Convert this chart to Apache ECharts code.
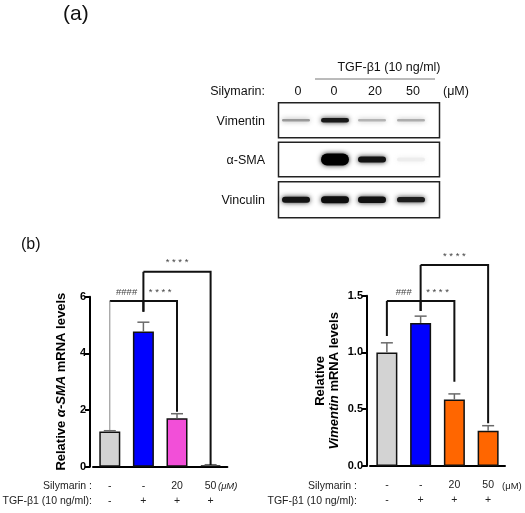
<!DOCTYPE html>
<html><head><meta charset="utf-8">
<script src="https://cdn.jsdelivr.net/npm/echarts@6/dist/echarts.min.js"></script>
<style>html,body{margin:0;padding:0;background:#fff}#c{width:525px;height:513px}</style>
</head><body><div id="c"></div><script>
// ---------- data ----------
const categories = ['Control', 'TGF-β1', 'TGF-β1 + Sil 20', 'TGF-β1 + Sil 50'];
const silymarinLabels = ['-', '-', '20', '50'];
const tgfLabels = ['-', '+', '+', '+'];

const smaValues = [1.24, 4.77, 1.71, 0.05];
const smaErrTop = [1.27, 5.10, 1.87, 0.07];
const smaColors = ['#d3d3d3', '#0000ff', '#f24fd8', '#f24fd8'];
const smaTicks = [0, 2, 4, 6];

const vimValues = [1.00, 1.26, 0.585, 0.31];
const vimErrTop = [1.085, 1.32, 0.635, 0.355];
const vimColors = ['#d3d3d3', '#0000ff', '#ff6600', '#ff6600'];
const vimTicks = [0, 0.5, 1.0, 1.5];

// brackets: from index, to index, bar height, left-leg end, right-leg end
const smaBrackets = [[0, 1, 5.85, 1.29, 5.47], [1, 2, 5.85, 5.47, 1.94], [1, 3, 6.88, 5.85, 0.06]];
const smaBracketLabels = ['####', '* * * *', '* * * *'];
const smaThinLeftLeg = [1, 0, 0];
const vimBrackets = [[0, 1, 1.454, 1.145, 1.366], [1, 2, 1.454, 1.366, 0.743], [1, 3, 1.771, 1.454, 0.376]];
const vimBracketLabels = ['###', '* * * *', '* * * *'];
const vimThinLeftLeg = [0, 0, 0];

// western blot (a)
const blotLanes = ['0', '0', '20', '50'];
const blotRows = ['Vimentin', 'α-SMA', 'Vinculin'];
const vimentinBand = [0.4, 0.9, 0.3, 0.32];
const smaBand = [0.0, 1.0, 0.92, 0.07];
const vinculinBand = [0.92, 0.95, 0.93, 0.88];

// ---------- chart ----------
const FONT = 'Liberation Sans, Arial, sans-serif';
const chart = echarts.init(document.getElementById('c'), null, {renderer: 'canvas'});

function xAxisCfg(gridIndex) {
  return {
    type: 'category', gridIndex, data: categories,
    axisLine: {lineStyle: {color: '#000', width: 2}},
    axisTick: {alignWithLabel: true, length: 6, lineStyle: {color: '#222', width: 1}},
    axisLabel: {
      margin: 12, fontSize: 10.5, lineHeight: 15, color: '#222', fontFamily: FONT,
      formatter: (v, i) => silymarinLabels[i] + '\n' + tgfLabels[i]
    }
  };
}
function yAxisCfg(gridIndex, max, interval, name, gap) {
  return {
    type: 'value', gridIndex, min: 0, max, interval, offset: 3,
    axisLine: {show: true, lineStyle: {color: '#000', width: 2}},
    axisTick: {show: true, length: 5, lineStyle: {color: '#000', width: 2}},
    splitLine: {show: false},
    axisLabel: {fontSize: 11, fontWeight: 'bold', color: '#000', fontFamily: FONT, margin: 4,
      formatter: v => max < 5 ? v.toFixed(1) : String(v)},
    name, nameLocation: 'middle', nameRotate: 90, nameGap: gap,
    nameTextStyle: {
      fontFamily: FONT, color: '#000', lineHeight: 14, align: 'center',
      rich: {
        b: {fontSize: 13, fontWeight: 'bold', fontFamily: FONT, color: '#000'},
        i: {fontSize: 13, fontWeight: 'bold', fontStyle: 'italic', fontFamily: FONT, color: '#000'}
      }
    }
  };
}
function barSeries(idx, values, colors) {
  return {
    type: 'bar', xAxisIndex: idx, yAxisIndex: idx, barWidth: 21,
    data: values.map((v, i) => ({value: v, itemStyle: {color: colors[i]}})),
    itemStyle: {borderColor: '#111', borderWidth: 1.5}, z: 2
  };
}
function errSeries(idx, values, tops) {
  return {
    type: 'custom', xAxisIndex: idx, yAxisIndex: idx, z: 3, clip: false,
    data: values.map((v, i) => [i, v, tops[i]]),
    renderItem: (p, api) => {
      const a = api.coord([api.value(0), api.value(1)]);
      const b = api.coord([api.value(0), api.value(2)]);
      const st = {stroke: '#6a6a6a', lineWidth: 1.5};
      return {type: 'group', children: [
        {type: 'line', shape: {x1: a[0], y1: a[1], x2: b[0], y2: b[1]}, style: st},
        {type: 'line', shape: {x1: b[0] - 6, y1: b[1], x2: b[0] + 6, y2: b[1]}, style: st}
      ]};
    }
  };
}
function bracketSeries(idx, brackets, labels, thin) {
  return {
    type: 'custom', xAxisIndex: idx, yAxisIndex: idx, z: 4, clip: false,
    data: brackets,
    renderItem: (p, api) => {
      const i = p.dataIndex;
      const L = api.coord([api.value(0), api.value(3)]);
      const LT = api.coord([api.value(0), api.value(2)]);
      const RT = api.coord([api.value(1), api.value(2)]);
      const R = api.coord([api.value(1), api.value(4)]);
      const thick = {stroke: '#111', lineWidth: 2, fill: null};
      const children = [
        {type: 'polyline', shape: {points: [LT, RT, R]}, style: thick},
        {type: 'line', shape: {x1: L[0], y1: L[1], x2: LT[0], y2: LT[1]},
          style: thin[i] ? {stroke: '#888', lineWidth: 1} : {stroke: '#111', lineWidth: 2}},
        {type: 'text', x: (LT[0] + RT[0]) / 2, y: LT[1] - 9,
          style: {text: labels[i], fill: '#444', fontSize: 9.5, fontFamily: FONT,
            align: 'center', verticalAlign: 'middle'}}
      ];
      return {type: 'group', children};
    }
  };
}

// blot graphics
const laneX = [296, 335, 372, 411];
const boxes = [[102.7, 137.7], [142.3, 176.7], [181.7, 217.7]];
const bandData = [vimentinBand, smaBand, vinculinBand];
const bandHalfH = [[1.3, 2.3, 1.2, 1.3], [2.5, 6, 3, 2], [3, 3.5, 3.2, 2.6]];
const graphics = [];
graphics.push({type: 'text', left: 63, top: 4, style: {text: '(a)', fontSize: 21, fontFamily: FONT, fill: '#111'}});
graphics.push({type: 'text', left: 21, top: 237, style: {text: '(b)', fontSize: 16, fontFamily: FONT, fill: '#111'}});
graphics.push({type: 'text', x: 389, y: 68, style: {text: 'TGF-β1 (10 ng/ml)', fontSize: 12.5, fontFamily: FONT, fill: '#111', align: 'center', verticalAlign: 'middle'}});
graphics.push({type: 'line', shape: {x1: 315, y1: 79, x2: 435, y2: 79}, style: {stroke: '#777', lineWidth: 1}});
graphics.push({type: 'text', x: 265, y: 92, style: {text: 'Silymarin:', fontSize: 12.5, fontFamily: FONT, fill: '#111', align: 'right', verticalAlign: 'middle'}});
blotLanes.forEach((t, i) => graphics.push({type: 'text', x: [298, 334, 375, 413][i], y: 92,
  style: {text: t, fontSize: 12.5, fontFamily: FONT, fill: '#111', align: 'center', verticalAlign: 'middle'}}));
graphics.push({type: 'text', x: 443, y: 92, style: {text: '(μM)', fontSize: 12.5, fontFamily: FONT, fill: '#111', align: 'left', verticalAlign: 'middle'}});
blotRows.forEach((name, r) => {
  const [y0, y1] = boxes[r];
  graphics.push({type: 'text', x: 265, y: (y0 + y1) / 2 + 1, style: {text: name, fontSize: 12.5, fontFamily: FONT, fill: '#111', align: 'right', verticalAlign: 'middle'}});
  graphics.push({type: 'rect', shape: {x: 278.5, y: y0, width: 161, height: y1 - y0}, style: {fill: '#fff', stroke: '#222', lineWidth: 1.5}});
  bandData[r].forEach((v, i) => {
    if (v <= 0) return;
    const h = bandHalfH[r][i];
    const g = Math.round(255 * (1 - v));
    graphics.push({type: 'rect', shape: {x: laneX[i] - 14, y: (y0 + y1) / 2 - h, width: 28, height: 2 * h, r: h},
      style: {fill: `rgb(${g},${g},${g})`, shadowBlur: 5, shadowColor: `rgba(${g},${g},${g},0.9)`}});
  });
});
// chart (b) row labels
[[92, 'Silymarin :'], [92, 'TGF-β1 (10 ng/ml):']].forEach(([x, t], k) =>
  graphics.push({type: 'text', x, y: 486.5 + 15 * k, style: {text: t, fontSize: 10.5, fontFamily: FONT, fill: '#222', align: 'right', verticalAlign: 'middle'}}));
[[357, 'Silymarin :'], [357, 'TGF-β1 (10 ng/ml):']].forEach(([x, t], k) =>
  graphics.push({type: 'text', x, y: 486.5 + 15 * k, style: {text: t, fontSize: 10.5, fontFamily: FONT, fill: '#222', align: 'right', verticalAlign: 'middle'}}));
graphics.push({type: 'text', x: 218, y: 486, style: {text: '(μM)', fontSize: 9.5, fontFamily: FONT, fontStyle: 'italic', fill: '#222', align: 'left', verticalAlign: 'middle'}});
graphics.push({type: 'text', x: 502, y: 486, style: {text: '(μM)', fontSize: 9.5, fontFamily: FONT, fill: '#222', align: 'left', verticalAlign: 'middle'}});

chart.setOption({
  animation: false,
  backgroundColor: '#fff',
  grid: [
    {left: 93, top: 296.7, width: 134.4, height: 170},
    {left: 370, top: 295.7, width: 135, height: 170.3}
  ],
  xAxis: [xAxisCfg(0), xAxisCfg(1)],
  yAxis: [
    yAxisCfg(0, 6, 2, '{b|Relative }{i|α-SMA}{b| mRNA levels}', 22),
    yAxisCfg(1, 1.5, 0.5, '{b|Relative}\n{i|Vimentin}{b| mRNA levels}', 26)
  ],
  series: [
    barSeries(0, smaValues, smaColors), errSeries(0, smaValues, smaErrTop), bracketSeries(0, smaBrackets, smaBracketLabels, smaThinLeftLeg),
    barSeries(1, vimValues, vimColors), errSeries(1, vimValues, vimErrTop), bracketSeries(1, vimBrackets, vimBracketLabels, vimThinLeftLeg)
  ],
  graphic: graphics
});
</script></body></html>
